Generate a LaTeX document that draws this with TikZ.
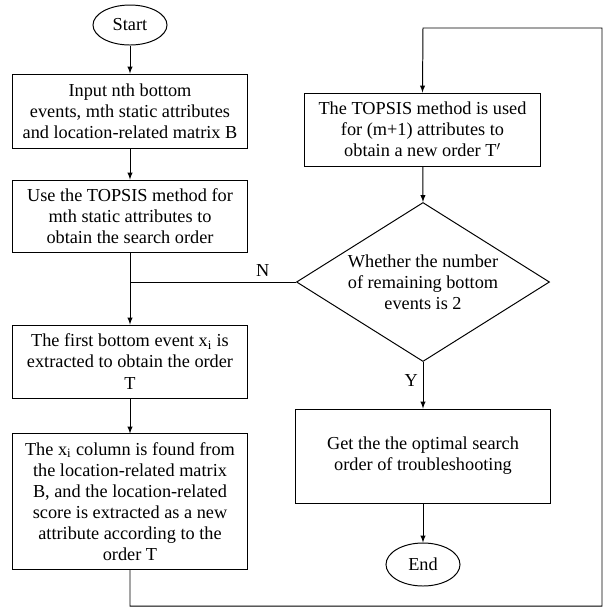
\documentclass[tikz,border=0pt]{standalone}
\usepackage{fontspec}
\setmainfont{Liberation Serif}
\usepackage{tikz}
\usetikzlibrary{arrows,shapes}

\begin{document}
\begin{tikzpicture}[x=0.025cm,y=-0.025cm,>=latex,thin,
font=\fontsize{13}{15}\selectfont,
box/.style = {draw,rectangle,align=center,line width=0.7pt,minimum width=5.875cm,inner sep=2pt},
term/.style = {draw,ellipse,line width=0.7pt,minimum width=1.85cm,minimum height=1cm,inner sep=0pt},
test/.style = {draw,diamond,aspect=1.6,align=center,line width=0.7pt,minimum width=6.325cm,minimum height=3.975cm,inner sep=0pt},
link/.style = {line width=0.7pt}]
\useasboundingbox (0,0) rectangle (603,608);
\node[term] at (130,25) (start) {Start};
\node[box,minimum height=1.85cm] at (130,111) (input) {Input nth bottom\\events, mth static attributes\\and location-related matrix B};
\node[box,minimum height=1.8cm] at (130,216) (topsis) {Use the TOPSIS method for\\mth static attributes to\\obtain the search order};
\node[box,minimum height=1.825cm] at (130,361.5) (first) {The first bottom event x\textsubscript{i} is\\extracted to obtain the order\\T};
\node[box,minimum height=3.375cm] at (130,501.5) (column) {The x\textsubscript{i} column is found from\\the location-related matrix\\B, and the location-related\\score is extracted as a new\\attribute according to the\\order T};
\node[box,minimum height=1.825cm] at (422.5,129.5) (neworder) {The TOPSIS method is used\\for (m+1) attributes to\\obtain a new order T$'$};
\node[test] at (423,282) (remain) {Whether the number\\of remaining bottom\\events is 2};
\node[box,minimum width=6.35cm,minimum height=2.35cm] at (423,456) (optimal) {Get the the optimal search\\order of troubleshooting};
\node[term,minimum height=1.075cm] at (423,564.5) (end) {End};

\coordinate (join) at (130,282);
\coordinate (c1) at (130,606);
\coordinate (c2) at (602,606);
\coordinate (c3) at (602,28);
\coordinate (c4) at (423,28);

\draw[link,->] (start) -- (input);
\draw[link,->] (input) -- (topsis);
\draw[link,->] (topsis) -- (first);
\draw[link] (remain.west) -- node[above,pos=0.2] {N} (join);
\draw[link,->] (first) -- (column);
\draw[link,->] (column.south) -- (c1) -- (c2) -- (c3) -- (c4) -- (neworder.north);
\draw[link,->] (neworder) -- (remain.north);
\draw[link,->] (remain.south) -- node[left,pos=0.4] {Y} (optimal.north);
\draw[link,->] (optimal) -- (end);
\end{tikzpicture}
\end{document}
